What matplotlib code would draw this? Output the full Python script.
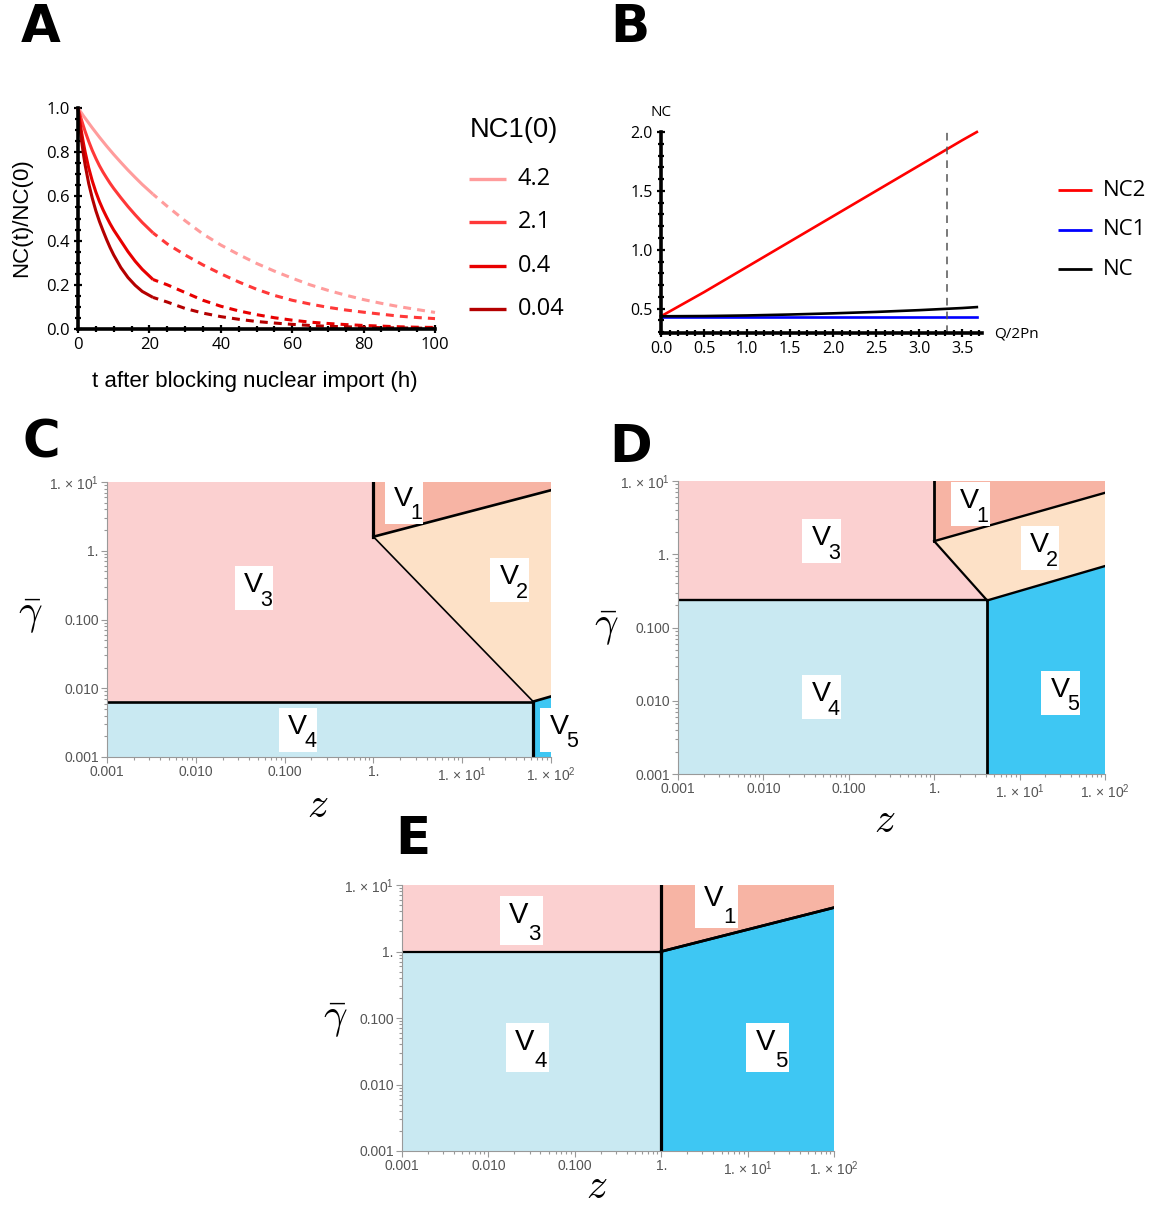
import matplotlib.pyplot as plt
from matplotlib.lines import Line2D
from matplotlib.patches import Rectangle
from matplotlib.transforms import ScaledTranslation
from matplotlib.ticker import MultipleLocator, FormatStrFormatter, LogLocator, NullFormatter
from matplotlib import font_manager

installed = {f.name for f in font_manager.fontManager.ttflist}
if 'Liberation Sans Narrow' in installed:
    NARROW, NSCALE = 'Liberation Sans Narrow', 1.0
else:
    NARROW, NSCALE = 'Liberation Sans', 0.82
NUM = 'Open Sans'

plt.rcParams['font.family'] = ['Liberation Sans', 'DejaVu Sans']
plt.rcParams['mathtext.fontset'] = 'custom'
plt.rcParams['mathtext.rm'] = 'Liberation Sans'
plt.rcParams['mathtext.it'] = 'Liberation Sans:italic'

# ---- panel A: NC(t)/NC(0) after blocking import
nc1_init = ['4.2', '2.1', '0.4', '0.04']
nc1_colors = ['#FF9C9C', '#FF3838', '#E80000', '#B40000']
t_solid = [0, 0.5, 1, 1.5, 2, 3, 4, 5, 6, 7, 8, 9, 10, 12, 14, 16, 18, 21]
t_dashed = [21, 25, 30, 35, 40, 45, 50, 55, 60, 65, 70, 75, 80, 85, 90, 95, 100]
nc_42_solid = [1.0, 0.988, 0.977, 0.965, 0.954, 0.932, 0.910, 0.889, 0.868, 0.848, 0.828,
               0.809, 0.790, 0.754, 0.719, 0.686, 0.654, 0.61]
nc_21_solid = [1.0, 0.972, 0.945, 0.919, 0.894, 0.849, 0.808, 0.772, 0.739, 0.710, 0.684,
               0.659, 0.636, 0.594, 0.554, 0.517, 0.482, 0.435]
nc_04_solid = [1.0, 0.942, 0.890, 0.843, 0.801, 0.729, 0.670, 0.620, 0.577, 0.540, 0.507,
               0.476, 0.448, 0.399, 0.350, 0.307, 0.270, 0.224]
nc_004_solid = [1.0, 0.920, 0.852, 0.793, 0.742, 0.658, 0.592, 0.535, 0.487, 0.445, 0.405,
                0.368, 0.335, 0.278, 0.233, 0.198, 0.170, 0.143]
nc_42_dashed = [0.61, 0.555, 0.49, 0.43, 0.38, 0.337, 0.297, 0.262, 0.23, 0.2, 0.175,
                0.153, 0.133, 0.116, 0.101, 0.088, 0.075]
nc_21_dashed = [0.435, 0.385, 0.335, 0.29, 0.25, 0.213, 0.18, 0.152, 0.13, 0.113, 0.098,
                0.086, 0.076, 0.067, 0.058, 0.052, 0.047]
nc_04_dashed = [0.224, 0.2, 0.165, 0.13, 0.103, 0.082, 0.065, 0.051, 0.04, 0.031, 0.025,
                0.02, 0.016, 0.013, 0.01, 0.008, 0.007]
nc_004_dashed = [0.143, 0.122, 0.093, 0.072, 0.056, 0.044, 0.034, 0.027, 0.021, 0.016, 0.012,
                 0.01, 0.008, 0.006, 0.005, 0.004, 0.003]

# ---- panel B
q_ratio = [0, 0.5, 1.0, 1.5, 2.0, 2.5, 3.0, 3.5, 3.67]
nc2_vals = [0.435, 0.64, 0.855, 1.07, 1.285, 1.50, 1.715, 1.93, 2.0]
nc1_vals = [0.43, 0.43, 0.43, 0.43, 0.43, 0.43, 0.43, 0.43, 0.43]
nc_vals = [0.435, 0.437, 0.442, 0.45, 0.46, 0.472, 0.487, 0.505, 0.513]
q_marker = 3.32
b_names = ['NC2', 'NC1', 'NC']
b_colors = ['#FF0000', '#0000FF', '#000000']

# ---- panels C-E: phase boundaries (z, gamma_bar)
# triple = top of the z=1 wall, corner = meeting point of V2/V3/V4/V5,
# right = gamma_bar at z=100 on the V1|V2 and V2|V5 boundaries
c_triple, c_corner, c_right = (1.0, 1.6), (63.0, 0.0064), (7.6, 0.0076)
d_triple, d_corner, d_right = (1.0, 1.51), (4.17, 0.234), (6.9, 0.69)
e_triple, e_corner, e_right = (1.0, 1.0), (1.0, 1.0), (4.57, 4.57)
c_labels = {1: (2.2, 5.2), 2: (34, 0.376), 3: (0.045, 0.29), 4: (0.141, 0.0025), 5: (125, 0.0025)}
d_labels = {1: (2.64, 4.8), 2: (17.4, 1.2), 3: (0.048, 1.51), 4: (0.048, 0.0112), 5: (30.3, 0.0129)}
e_labels = {1: (4.38, 5.3), 3: (0.024, 2.95), 4: (0.028, 0.036), 5: (17.2, 0.036)}
z_ticks = [0.001, 0.01, 0.1, 1, 10, 100]
z_ticklabels = ['0.001', '0.010', '0.100', '1.', r'1. $\times$ 10$^{1}$', r'1. $\times$ 10$^{2}$']
g_ticks = [0.001, 0.01, 0.1, 1, 10]
g_ticklabels = ['0.001', '0.010', '0.100', '1.', r'1. $\times$ 10$^{1}$']
region_colors = {1: '#F7B4A4', 2: '#FDE1C7', 3: '#FBD0D0', 4: '#C9E9F2', 5: '#3EC7F3'}

W, H = 1156, 1207
fig = plt.figure(figsize=(W / 100, H / 100), dpi=100)


def axes_px(left, top, right, bottom):
    return fig.add_axes([left / W, 1 - bottom / H, (right - left) / W, (bottom - top) / H])


def fig_text(x, y, s, **kw):
    return fig.text(x / W, 1 - y / H, s, **kw)


def fig_line(x0, x1, y, color, lw):
    fig.add_artist(Line2D([x0 / W, x1 / W], [1 - y / H, 1 - y / H], color=color, lw=lw,
                          transform=fig.transFigure, solid_capstyle='butt'))


def thick_axes(ax):
    for s in ['top', 'right']:
        ax.spines[s].set_visible(False)
    for s in ['left', 'bottom']:
        ax.spines[s].set_linewidth(2.6)
    ax.tick_params(which='both', direction='inout', width=1.6, color='black',
                   labelsize=12, labelfontfamily=NUM, pad=3)
    ax.tick_params(which='major', length=6)
    ax.tick_params(which='minor', length=4)


# ---------------- A
axA = axes_px(78, 108, 435, 329)
solids = [nc_42_solid, nc_21_solid, nc_04_solid, nc_004_solid]
dashes = [nc_42_dashed, nc_21_dashed, nc_04_dashed, nc_004_dashed]
for sol, das, col in zip(solids, dashes, nc1_colors):
    axA.plot(t_solid, sol, color=col, lw=2.2, solid_capstyle='butt', clip_on=False)
    axA.plot(t_dashed, das, color=col, lw=2.2, ls=(0.8, (2.6, 2.0)), dash_capstyle='butt',
             clip_on=False)
axA.set_xlim(0, 100)
axA.set_ylim(0, 1)
axA.xaxis.set_major_locator(MultipleLocator(20))
axA.xaxis.set_minor_locator(MultipleLocator(5))
axA.yaxis.set_major_locator(MultipleLocator(0.2))
axA.yaxis.set_minor_locator(MultipleLocator(0.05))
axA.yaxis.set_major_formatter(FormatStrFormatter('%.1f'))
thick_axes(axA)
fig_text(22, 218, 'NC(t)/NC(0)', rotation=90, ha='center', va='center',
         fontsize=19.5 * NSCALE, family=NARROW)
fig_text(255, 381, 't after blocking nuclear import (h)', ha='center', va='center',
         fontsize=19.5 * NSCALE, family=NARROW)
fig_text(470, 130, 'NC1(0)', ha='left', va='center', fontsize=24 * NSCALE, family=NARROW)
for i, (lab, col) in enumerate(zip(nc1_init, nc1_colors)):
    y = 179 + i * 43.3
    fig_line(469, 506, y, col, 2.4)
    fig_text(518, y, lab, ha='left', va='center', fontsize=17, family=NUM)

# ---------------- B
axB = axes_px(661, 132, 982, 333)
for vals, col in zip([nc2_vals, nc1_vals, nc_vals], b_colors):
    axB.plot(q_ratio, vals, color=col, lw=1.9, clip_on=False)
axB.axvline(q_marker, color='#555555', lw=1.1, ls=(0, (5, 4)))
axB.set_xlim(0, 3.73)
axB.set_ylim(0.293, 2.0)
axB.xaxis.set_major_locator(MultipleLocator(0.5))
axB.xaxis.set_minor_locator(MultipleLocator(0.1))
axB.yaxis.set_major_locator(MultipleLocator(0.5))
axB.yaxis.set_minor_locator(MultipleLocator(0.1))
axB.xaxis.set_major_formatter(FormatStrFormatter('%.1f'))
axB.yaxis.set_major_formatter(FormatStrFormatter('%.1f'))
thick_axes(axB)
axB.tick_params(labelsize=11.5)
fig_text(661, 113, 'NC', ha='center', va='center', fontsize=11, family=NUM)
fig_text(994, 334, 'Q/2Pn', ha='left', va='center', fontsize=11, family=NUM)
for i, (lab, col) in enumerate(zip(b_names, b_colors)):
    y = 190 + i * 39.5
    fig_line(1058, 1092, y, col, 2.0)
    fig_text(1103, y, lab, ha='left', va='center', fontsize=16, family=NUM)

# ---------------- C, D, E
Z0, Z1, G0, G1 = 1e-3, 1e2, 1e-3, 1e1


def region_label(ax, k, z, g, big):
    # white box (inches around the anchor point) with "V" and a dropped subscript
    tr = fig.dpi_scale_trans + ScaledTranslation(z, g, ax.transData)
    if big:
        bw, bh, vx, vy, sx, sy, fs, ss = 0.43, 0.49, -0.026, -0.028, 0.133, -0.195, 21, 16
    else:
        bw, bh, vx, vy, sx, sy, fs, ss = 0.386, 0.44, -0.005, -0.04, 0.122, -0.178, 20.5, 15.5
    ax.add_patch(Rectangle((-bw / 2, -bh / 2), bw, bh, transform=tr, fc='white',
                           ec='none', zorder=5, clip_on=False))
    ax.text(vx, vy, 'V', transform=tr, ha='center', va='baseline', fontsize=fs,
            zorder=6, clip_on=False)
    ax.text(sx, sy, str(k), transform=tr, ha='center', va='baseline', fontsize=ss,
            zorder=6, clip_on=False)


def phase_panel(box, triple, corner, right, labels, widths, big=False):
    ax = axes_px(*box)
    ax.set_xscale('log')
    ax.set_yscale('log')
    ax.set_xlim(Z0, Z1)
    ax.set_ylim(G0, G1)
    ax.set_autoscale_on(False)
    (zt, gt), (zc, gc), (g12, g25) = triple, corner, right
    shapes = {
        3: ([Z0, Z0, zt, zt, zc], [gc, G1, G1, gt, gc]),
        1: ([zt, Z1, Z1, zt], [G1, G1, g12, gt]),
        2: ([zt, Z1, Z1, zc], [gt, g12, g25, gc]),
        4: ([Z0, Z0, zc, zc], [G0, gc, gc, G0]),
        5: ([zc, zc, Z1, Z1], [G0, gc, g25, G0]),
    }
    for k, (zs, gs) in shapes.items():
        ax.fill(zs, gs, color=region_colors[k], lw=0)
    w_wall, w_slope, w_diag, w_floor = widths
    ax.plot([zt, zt], [G1, gt], color='k', lw=w_wall)
    ax.plot([zt, Z1], [gt, g12], color='k', lw=w_slope)
    ax.plot([zt, zc], [gt, gc], color='k', lw=w_diag)
    ax.plot([Z0, zc], [gc, gc], color='k', lw=w_floor)
    ax.plot([zc, zc], [G0, gc], color='k', lw=w_wall)
    ax.plot([zc, Z1], [gc, g25], color='k', lw=w_slope)
    for k, (z, g) in labels.items():
        region_label(ax, k, z, g, big)
    ax.set_xticks(z_ticks)
    ax.set_xticklabels(z_ticklabels)
    ax.set_yticks(g_ticks)
    ax.set_yticklabels(g_ticklabels)
    for axis in (ax.xaxis, ax.yaxis):
        axis.set_minor_locator(LogLocator(base=10, subs=range(2, 10)))
        axis.set_minor_formatter(NullFormatter())
    for s in ['top', 'right']:
        ax.spines[s].set_visible(False)
    for s in ['left', 'bottom']:
        ax.spines[s].set_color('#999999')
        ax.spines[s].set_linewidth(0.8)
    ax.tick_params(which='both', direction='out', color='#999999', width=0.8,
                   labelcolor='#555555', labelsize=10, pad=2)
    ax.tick_params(which='major', length=4)
    ax.tick_params(which='minor', length=2)
    return ax


phase_panel((107, 482, 551, 757), c_triple, c_corner, c_right, c_labels, (2.3, 1.9, 1.2, 1.9))
phase_panel((678, 481, 1105, 774), d_triple, d_corner, d_right, d_labels, (2.0, 1.7, 1.6, 1.7))
phase_panel((402, 885, 834, 1151), e_triple, e_corner, e_right, e_labels, (2.3, 1.9, 1.2, 1.6),
            big=True)

for x, y in [(30, 616), (606, 628), (335, 1020)]:
    fig_text(x, y, r'$\bar{\gamma}$', ha='center', va='center', fontsize=30, math_fontfamily='cm')
for x, y in [(318, 806), (885, 821), (597, 1187)]:
    fig_text(x, y, r'$z$', ha='center', va='center', fontsize=30, math_fontfamily='cm')

for lab, x, y in [('A', 41, 28), ('B', 630, 28), ('C', 41, 443), ('D', 631, 448), ('E', 413, 840)]:
    fig_text(x, y, lab, ha='center', va='center', fontsize=37, fontweight='bold',
             family='DejaVu Sans')

fig.savefig('out.png', dpi=100)
